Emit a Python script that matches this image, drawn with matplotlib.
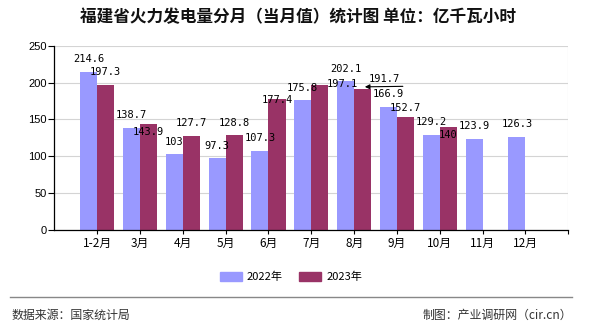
import matplotlib
matplotlib.use("Agg")
import matplotlib.pyplot as plt
from matplotlib.lines import Line2D
from matplotlib.patches import Patch
import numpy as np

plt.rcParams['font.family'] = ['Noto Sans CJK SC', 'DejaVu Sans']

categories = ["1-2月", "3月", "4月", "5月", "6月", "7月", "8月", "9月", "10月", "11月", "12月"]
values_2022 = [214.6, 138.7, 103, 97.3, 107.3, 175.8, 202.1, 166.9, 129.2, 123.9, 126.3]
values_2023 = [197.3, 143.9, 127.7, 128.8, 177.4, 197.1, 191.7, 152.7, 140]
labels_2022 = ["214.6", "138.7", "103", "97.3", "107.3", "175.8", "202.1", "166.9", "129.2", "123.9", "126.3"]
labels_2023 = ["197.3", "143.9", "127.7", "128.8", "177.4", "197.1", "191.7", "152.7", "140"]
series_names = ["2022年", "2023年"]
yticks = [0, 50, 100, 150, 200, 250]

title = "福建省火力发电量分月（当月值）统计图 单位：亿千瓦小时"
source = "数据来源：国家统计局"
credit = "制图：产业调研网（cir.cn）"

c22 = "#9999ff"
c23 = "#993366"

W, H = 590, 330
fig = plt.figure(figsize=(W / 100, H / 100), dpi=100)
ax = fig.add_axes([54.3 / W, 1 - 230 / H, (568.3 - 54.3) / W, (230 - 45.7) / H])

x = np.arange(1, len(categories) + 1)
bw = 0.4
b22 = ax.bar(x[:len(values_2022)] - bw / 2, values_2022, width=bw, color=c22, zorder=2)
b23 = ax.bar(x[:len(values_2023)] + bw / 2, values_2023, width=bw, color=c23, zorder=2)

ax.set_xlim(0, 12)
ax.set_ylim(0, 250)
ax.set_xticks(x)
ax.set_xticklabels(categories, fontsize=8.5)
ax.set_yticks(yticks)
ax.set_yticklabels([str(v) for v in yticks], fontsize=8, family=['Liberation Sans'])
# vertical gridlines at all integer positions up to the right edge
ax.set_xticks(np.arange(1, 13), minor=True)
ax.grid(True, which='minor', axis='x', color='#d4d4d4', lw=0.8, zorder=0)
ax.grid(True, which='major', axis='y', color='#d4d4d4', lw=0.8, zorder=0)
ax.tick_params(axis='x', which='major', length=3, width=0.8, pad=2, color='black')
ax.tick_params(axis='x', which='minor', length=3, width=0.8, color='black')
ax.tick_params(axis='y', length=4, width=0.8, pad=1.5, color='black')
for s in ['top', 'right']:
    ax.spines[s].set_visible(False)
for s in ['left', 'bottom']:
    ax.spines[s].set_color('black')
    ax.spines[s].set_linewidth(0.9)

px = 0.72  # points per pixel
lab_font = dict(fontsize=7.5, family=['DejaVu Sans Mono', 'Noto Sans CJK SC'], ha='center', va='center', zorder=5)

# default offsets (pixels): dx, dy (up)
off22 = [(0, 12.5)] * len(values_2022)
off23 = [(0, 12.5)] * len(values_2023)
off23 = list(off23)
off23[1] = (0, -8)
off23[4] = (0, -1)
off23[5] = (22, 1)
off23[6] = (22, 10)
off23[7] = (0, 9.5)
off23[8] = (0, -8)

for xi, v, t, (dx, dy) in zip(x, values_2022, labels_2022, off22):
    ax.annotate(t, (xi - bw / 2, v), xytext=(dx * px, dy * px), textcoords='offset points', **lab_font)
for xi, v, t, (dx, dy) in zip(x, values_2023, labels_2023, off23):
    ax.annotate(t, (xi + bw / 2, v), xytext=(dx * px, dy * px), textcoords='offset points', **lab_font)

# leader arrow for the 8月 2023 label
i8 = 6
ax.annotate('', xy=(x[i8] + bw / 2 + 0.05, values_2023[i8] + 2.5),
            xytext=(38 * px, 0.5 * px), textcoords='offset points',
            arrowprops=dict(arrowstyle='-|>', color='black', lw=0.8,
                            mutation_scale=7, shrinkA=0, shrinkB=0), zorder=6)

fig.text(298 / W, 1 - 17 / H, title, ha='center', va='center', fontsize=12, fontweight='bold', color='#111111')

handles = [Patch(color=c22), Patch(color=c23)]
fig.legend(handles, series_names, loc='center', bbox_to_anchor=(291 / W, 1 - 277 / H), ncol=2,
           frameon=False, fontsize=8, handlelength=1.95, handleheight=0.8, handletextpad=0.45,
           columnspacing=1.5)

fig.add_artist(Line2D([10 / W, 572 / W], [1 - 297.3 / H, 1 - 297.3 / H], color='#888888', lw=1))
fig.text(11.7 / W, 1 - 315 / H, source, ha='left', va='center', fontsize=8.6, color='#333333')
fig.text(571.7 / W, 1 - 315 / H, credit, ha='right', va='center', fontsize=8.6, color='#333333')

fig.savefig("out.png", dpi=100)
